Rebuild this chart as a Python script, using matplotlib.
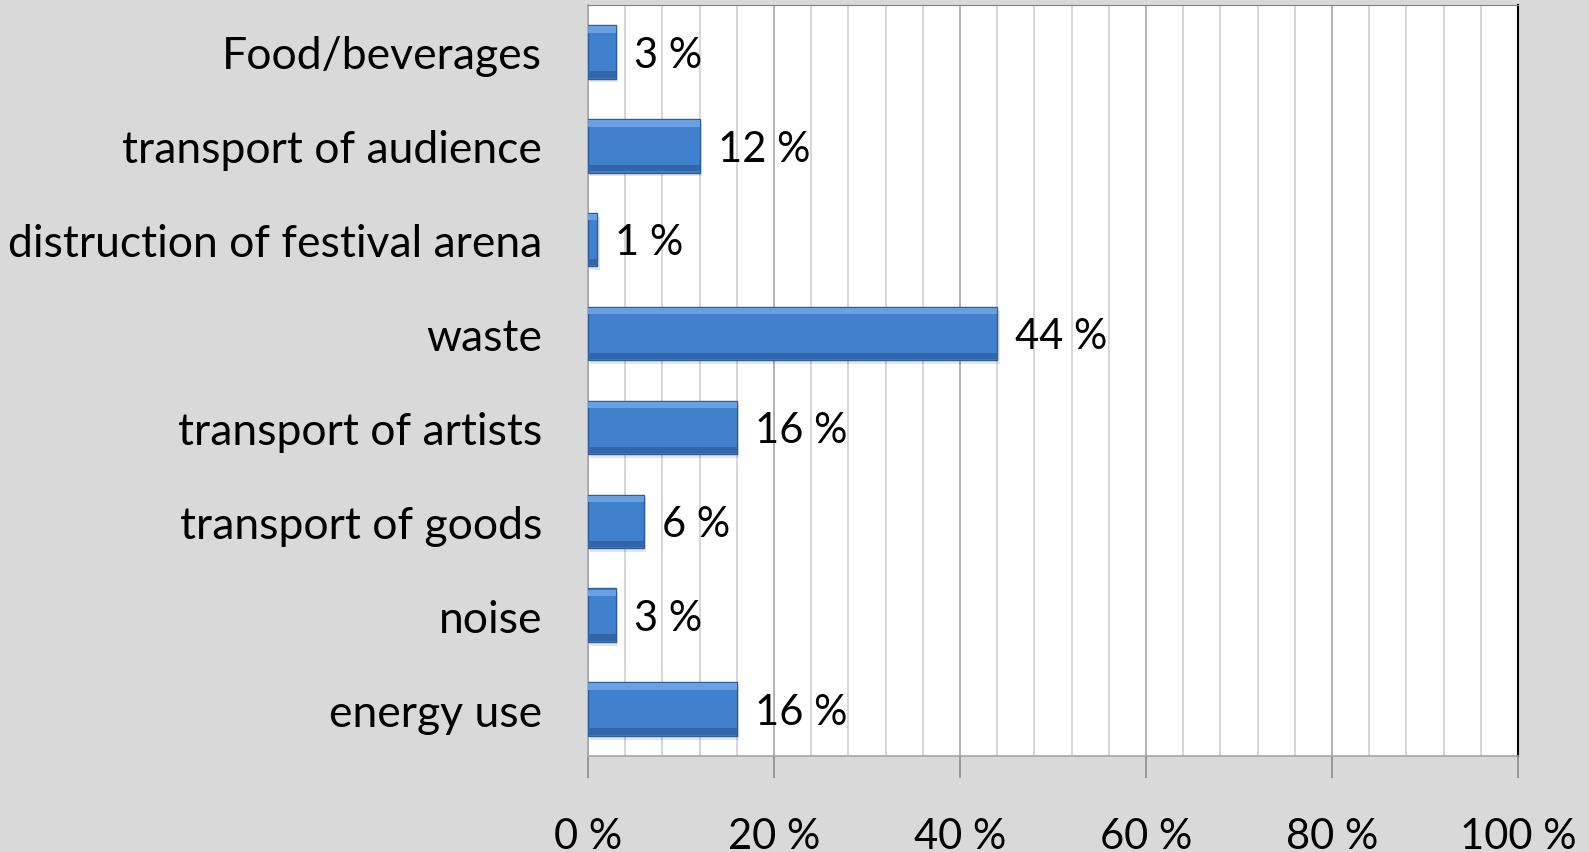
import matplotlib
matplotlib.use("Agg")
import matplotlib.pyplot as plt
import numpy as np

categories = ["energy use", "noise", "transport of goods", "transport of artists",
              "waste", "distruction of festival arena", "transport of audience", "Food/beverages"]
values = [16, 3, 6, 16, 44, 1, 12, 3]
xticks = [0, 20, 40, 60, 80, 100]
xticklabels = ["0 %", "20 %", "40 %", "60 %", "80 %", "100 %"]

plt.rcParams['font.family'] = ['Lato', 'DejaVu Sans']

fig = plt.figure(figsize=(15.89, 8.53), dpi=100, facecolor='#D9D9D9')
W, H = 1589, 853
ax = fig.add_axes([588 / W, 1 - 757 / H, (1518 - 588) / W, (757 - 6) / H])
ax.set_facecolor('white')

y = np.arange(len(categories))
bh = 0.57
# shadow
ax.barh(y - 0.04, values, height=bh, left=0.25, color='#000000', alpha=0.10, zorder=2)
ax.barh(y, values, height=bh, color='#4180CC', edgecolor='#2C5E9E', linewidth=1.0, zorder=3)
# bevel highlights
ax.barh(y + bh * 0.42, values, height=bh * 0.12, color='#68A0E2', linewidth=0, zorder=4)
ax.barh(y - bh * 0.42, values, height=bh * 0.12, color='#3366A8', linewidth=0, zorder=4)

for yi, v in zip(y, values):
    ax.annotate(f"{v} %", (v, yi), xytext=(13, -2), textcoords='offset points',
                va='center', ha='left', fontsize=30, color='black', zorder=5)

ax.set_xlim(0, 100)
ax.set_ylim(-0.5, len(categories) - 0.5)
ax.set_xticks(xticks)
ax.set_xticklabels(xticklabels, fontsize=30)
ax.set_xticks(np.arange(0, 101, 4), minor=True)
ax.set_yticks(y)
ax.set_yticklabels(categories, fontsize=32)
ax.tick_params(axis='y', length=0, pad=33)
ax.tick_params(axis='x', which='major', length=16, width=1.2, color='#8C8C8C', pad=28)
ax.tick_params(axis='x', which='minor', length=0)
ax.grid(axis='x', which='minor', color='#D0D0D0', linewidth=1.2, zorder=0)
ax.grid(axis='x', which='major', color='#A6A6A6', linewidth=1.2, zorder=0)
ax.set_axisbelow(True)
for s in ['left', 'bottom']:
    ax.spines[s].set_color('#A6A6A6')
    ax.spines[s].set_linewidth(1.2)
ax.spines['top'].set_color('#808080')
ax.spines['right'].set_color('#000000')
ax.spines['right'].set_linewidth(1.5)

fig.savefig('out.png', dpi=100, facecolor=fig.get_facecolor())
